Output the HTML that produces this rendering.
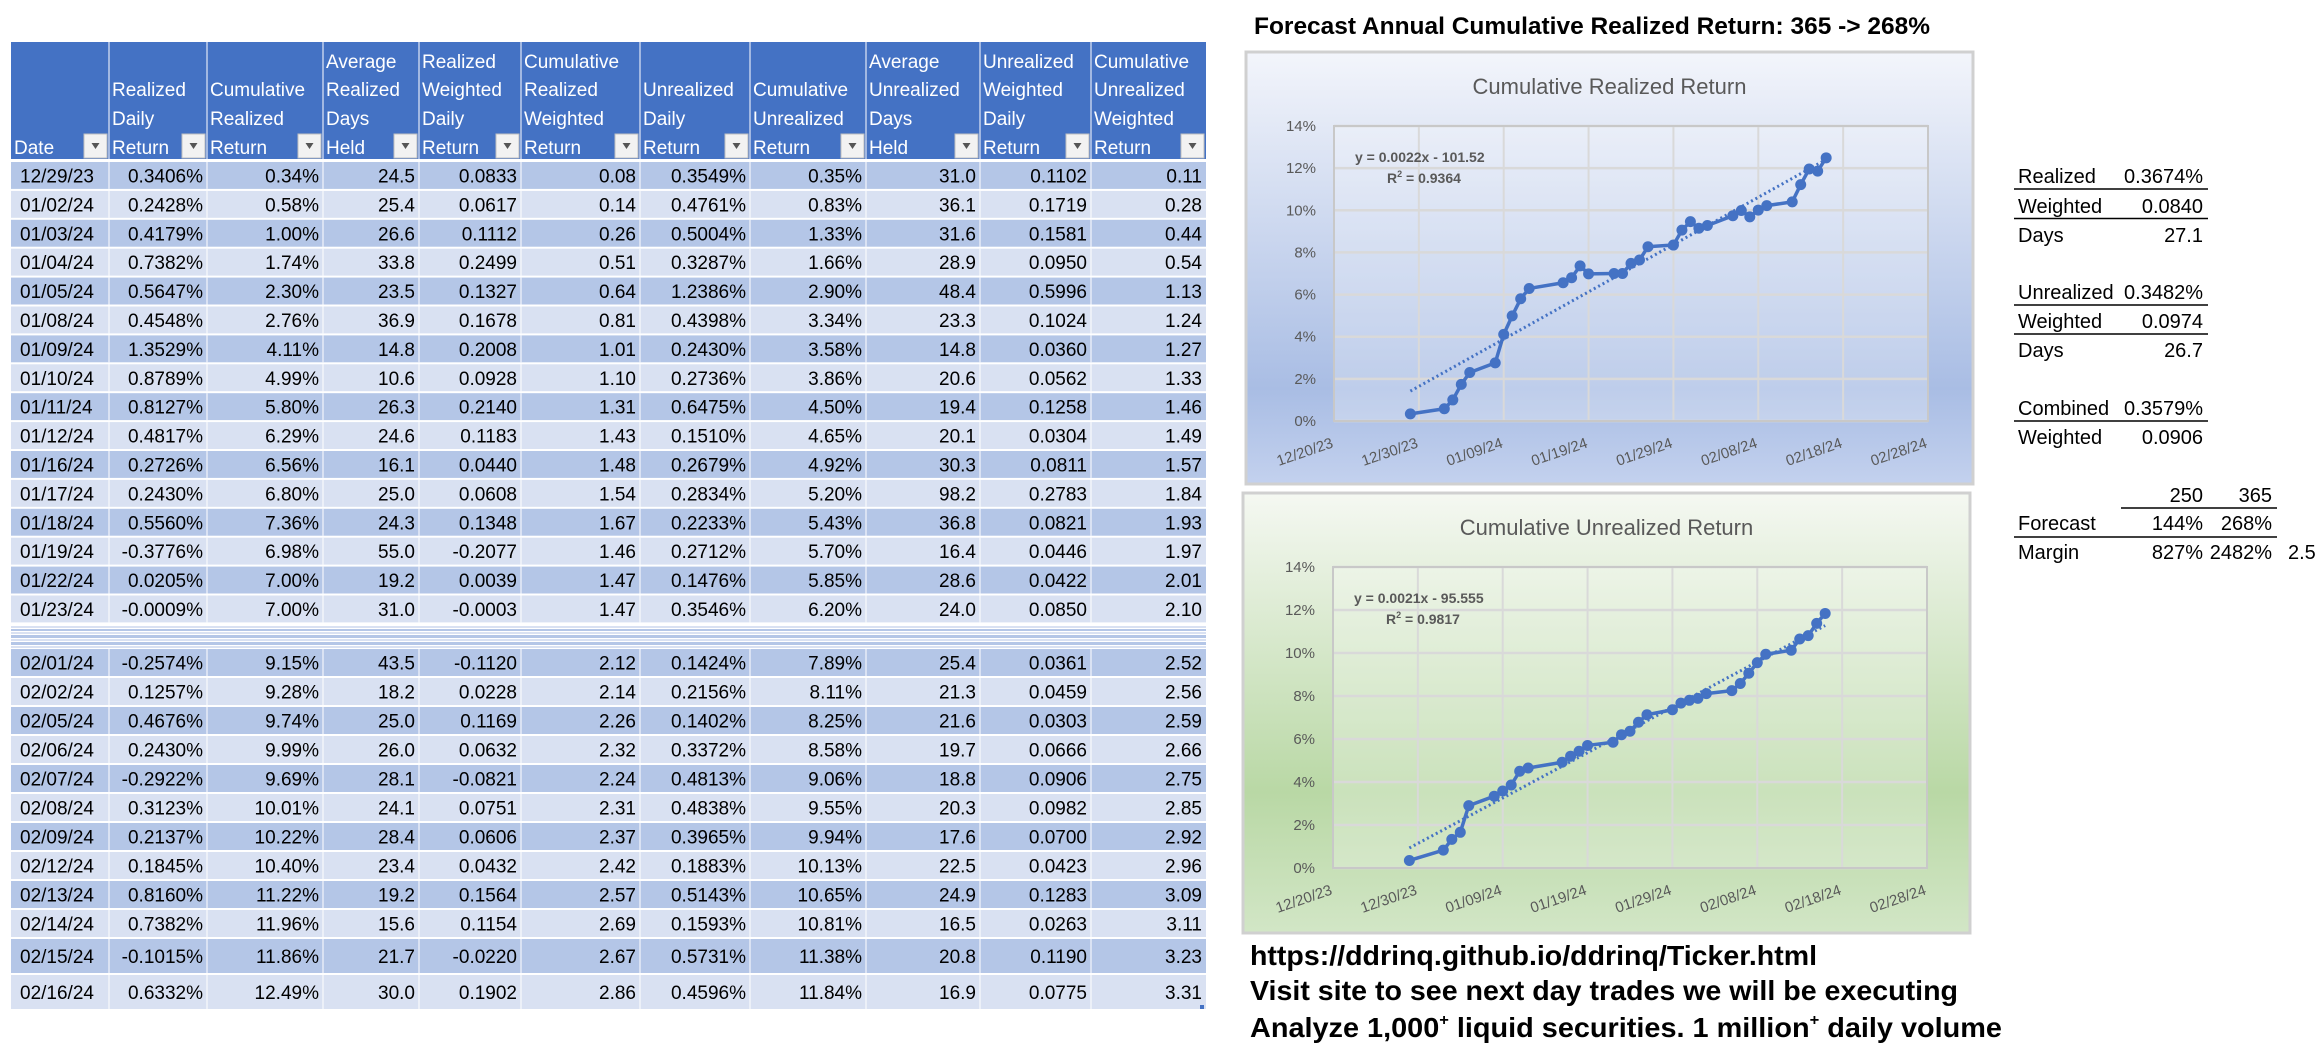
<!DOCTYPE html>
<html><head><meta charset="utf-8"><style>
html,body{margin:0;padding:0;background:#fff;}
svg{display:block;font-family:"Liberation Sans",sans-serif;}
</style></head><body>
<svg id="root" xmlns="http://www.w3.org/2000/svg" width="2320" height="1051" viewBox="0 0 2320 1051">
<defs>
<linearGradient id="gBlue" x1="0" y1="0" x2="0" y2="1">
<stop offset="0" stop-color="#F3F5FB"/><stop offset="0.78" stop-color="#A9BDE4"/><stop offset="1" stop-color="#C3D1EE"/></linearGradient>
<linearGradient id="gGreen" x1="0" y1="0" x2="0" y2="1">
<stop offset="0" stop-color="#F5F8F2"/><stop offset="0.68" stop-color="#B9D8A5"/><stop offset="1" stop-color="#D2E6C6"/></linearGradient>
</defs>
<g id="table"></g>
<text x="1254" y="34" font-size="24" font-weight="bold" textLength="676" lengthAdjust="spacingAndGlyphs">Forecast Annual Cumulative Realized Return: 365 -&gt; 268%</text>
<g id="chart1"></g>
<g id="chart2"></g>
<g id="summary" font-size="20">
<text x="2018" y="183">Realized</text><text x="2203" y="183" text-anchor="end">0.3674%</text>
<line x1="2014" y1="189" x2="2208" y2="189" stroke="#000" stroke-width="1.5"/>
<text x="2018" y="213">Weighted</text><text x="2203" y="213" text-anchor="end">0.0840</text>
<line x1="2014" y1="218.5" x2="2208" y2="218.5" stroke="#000" stroke-width="1.5"/>
<text x="2018" y="242">Days</text><text x="2203" y="242" text-anchor="end">27.1</text>
<text x="2018" y="299">Unrealized</text><text x="2203" y="299" text-anchor="end">0.3482%</text>
<line x1="2014" y1="305" x2="2208" y2="305" stroke="#000" stroke-width="1.5"/>
<text x="2018" y="328">Weighted</text><text x="2203" y="328" text-anchor="end">0.0974</text>
<line x1="2014" y1="334" x2="2208" y2="334" stroke="#000" stroke-width="1.5"/>
<text x="2018" y="357">Days</text><text x="2203" y="357" text-anchor="end">26.7</text>
<text x="2018" y="415">Combined</text><text x="2203" y="415" text-anchor="end">0.3579%</text>
<line x1="2014" y1="421" x2="2208" y2="421" stroke="#000" stroke-width="1.5"/>
<text x="2018" y="444">Weighted</text><text x="2203" y="444" text-anchor="end">0.0906</text>
<text x="2203" y="502" text-anchor="end">250</text><text x="2272" y="502" text-anchor="end">365</text>
<line x1="2121" y1="508" x2="2277" y2="508" stroke="#000" stroke-width="1.5"/>
<text x="2018" y="530">Forecast</text><text x="2203" y="530" text-anchor="end">144%</text><text x="2272" y="530" text-anchor="end">268%</text>
<line x1="2014" y1="537" x2="2277" y2="537" stroke="#000" stroke-width="1.5"/>
<text x="2018" y="559">Margin</text><text x="2203" y="559" text-anchor="end">827%</text><text x="2272" y="559" text-anchor="end">2482%</text><text x="2288" y="559">2.5</text>
</g>
<g font-weight="bold" font-size="28">
<text x="1250" y="965" textLength="567" lengthAdjust="spacingAndGlyphs">https://ddrinq.github.io/ddrinq/Ticker.html</text>
<text x="1250" y="1000" textLength="708" lengthAdjust="spacingAndGlyphs">Visit site to see next day trades we will be executing</text>
<text x="1250" y="1037" textLength="752" lengthAdjust="spacingAndGlyphs">Analyze 1,000<tspan font-size="16" dy="-12">+</tspan><tspan dy="12"> liquid securities.  1 million</tspan><tspan font-size="16" dy="-12">+</tspan><tspan dy="12"> daily volume</tspan></text>
</g>
</svg>
<script>
const NS="http://www.w3.org/2000/svg";
// ---- chart data ----
const chartDates=["12/29/23","01/02/24","01/03/24","01/04/24","01/05/24","01/08/24","01/09/24","01/10/24","01/11/24","01/12/24","01/16/24","01/17/24","01/18/24","01/19/24","01/22/24","01/23/24","01/24/24","01/25/24","01/26/24","01/29/24","01/30/24","01/31/24","02/01/24","02/02/24","02/05/24","02/06/24","02/07/24","02/08/24","02/09/24","02/12/24","02/13/24","02/14/24","02/15/24","02/16/24"];
const realizedCum=[0.34,0.58,1.00,1.74,2.30,2.76,4.11,4.99,5.80,6.29,6.56,6.80,7.36,6.98,7.00,7.00,7.48,7.64,8.27,8.35,9.06,9.46,9.15,9.28,9.74,9.99,9.69,10.01,10.22,10.40,11.22,11.96,11.86,12.49];
const unrealizedCum=[0.35,0.83,1.33,1.66,2.90,3.34,3.58,3.86,4.50,4.65,4.92,5.20,5.43,5.70,5.85,6.20,6.36,6.78,7.13,7.36,7.67,7.80,7.89,8.11,8.25,8.58,9.06,9.55,9.94,10.13,10.65,10.81,11.38,11.84];
const xTickLabels=["12/20/23","12/30/23","01/09/24","01/19/24","01/29/24","02/08/24","02/18/24","02/28/24"];
const yTickValues=[0,2,4,6,8,10,12,14];
const eq1=["y = 0.0022x - 101.52","0.9364"];
const eq2=["y = 0.0021x - 95.555","0.9817"];
// ---- table data ----
const headers=[["Date"],["Realized","Daily","Return"],["Cumulative","Realized","Return"],["Average","Realized","Days","Held"],["Realized","Weighted","Daily","Return"],["Cumulative","Realized","Weighted","Return"],["Unrealized","Daily","Return"],["Cumulative","Unrealized","Return"],["Average","Unrealized","Days","Held"],["Unrealized","Weighted","Daily","Return"],["Cumulative","Unrealized","Weighted","Return"]];
const rows1=[
["12/29/23","0.3406%","0.34%","24.5","0.0833","0.08","0.3549%","0.35%","31.0","0.1102","0.11"],
["01/02/24","0.2428%","0.58%","25.4","0.0617","0.14","0.4761%","0.83%","36.1","0.1719","0.28"],
["01/03/24","0.4179%","1.00%","26.6","0.1112","0.26","0.5004%","1.33%","31.6","0.1581","0.44"],
["01/04/24","0.7382%","1.74%","33.8","0.2499","0.51","0.3287%","1.66%","28.9","0.0950","0.54"],
["01/05/24","0.5647%","2.30%","23.5","0.1327","0.64","1.2386%","2.90%","48.4","0.5996","1.13"],
["01/08/24","0.4548%","2.76%","36.9","0.1678","0.81","0.4398%","3.34%","23.3","0.1024","1.24"],
["01/09/24","1.3529%","4.11%","14.8","0.2008","1.01","0.2430%","3.58%","14.8","0.0360","1.27"],
["01/10/24","0.8789%","4.99%","10.6","0.0928","1.10","0.2736%","3.86%","20.6","0.0562","1.33"],
["01/11/24","0.8127%","5.80%","26.3","0.2140","1.31","0.6475%","4.50%","19.4","0.1258","1.46"],
["01/12/24","0.4817%","6.29%","24.6","0.1183","1.43","0.1510%","4.65%","20.1","0.0304","1.49"],
["01/16/24","0.2726%","6.56%","16.1","0.0440","1.48","0.2679%","4.92%","30.3","0.0811","1.57"],
["01/17/24","0.2430%","6.80%","25.0","0.0608","1.54","0.2834%","5.20%","98.2","0.2783","1.84"],
["01/18/24","0.5560%","7.36%","24.3","0.1348","1.67","0.2233%","5.43%","36.8","0.0821","1.93"],
["01/19/24","-0.3776%","6.98%","55.0","-0.2077","1.46","0.2712%","5.70%","16.4","0.0446","1.97"],
["01/22/24","0.0205%","7.00%","19.2","0.0039","1.47","0.1476%","5.85%","28.6","0.0422","2.01"],
["01/23/24","-0.0009%","7.00%","31.0","-0.0003","1.47","0.3546%","6.20%","24.0","0.0850","2.10"]];
const rows2=[
["02/01/24","-0.2574%","9.15%","43.5","-0.1120","2.12","0.1424%","7.89%","25.4","0.0361","2.52"],
["02/02/24","0.1257%","9.28%","18.2","0.0228","2.14","0.2156%","8.11%","21.3","0.0459","2.56"],
["02/05/24","0.4676%","9.74%","25.0","0.1169","2.26","0.1402%","8.25%","21.6","0.0303","2.59"],
["02/06/24","0.2430%","9.99%","26.0","0.0632","2.32","0.3372%","8.58%","19.7","0.0666","2.66"],
["02/07/24","-0.2922%","9.69%","28.1","-0.0821","2.24","0.4813%","9.06%","18.8","0.0906","2.75"],
["02/08/24","0.3123%","10.01%","24.1","0.0751","2.31","0.4838%","9.55%","20.3","0.0982","2.85"],
["02/09/24","0.2137%","10.22%","28.4","0.0606","2.37","0.3965%","9.94%","17.6","0.0700","2.92"],
["02/12/24","0.1845%","10.40%","23.4","0.0432","2.42","0.1883%","10.13%","22.5","0.0423","2.96"],
["02/13/24","0.8160%","11.22%","19.2","0.1564","2.57","0.5143%","10.65%","24.9","0.1283","3.09"],
["02/14/24","0.7382%","11.96%","15.6","0.1154","2.69","0.1593%","10.81%","16.5","0.0263","3.11"],
["02/15/24","-0.1015%","11.86%","21.7","-0.0220","2.67","0.5731%","11.38%","20.8","0.1190","3.23"],
["02/16/24","0.6332%","12.49%","30.0","0.1902","2.86","0.4596%","11.84%","16.9","0.0775","3.31"]];

function mk(tag,attrs,parent,txt){const e=document.createElementNS(NS,tag);for(const k in attrs)e.setAttribute(k,attrs[k]);if(txt!==undefined)e.textContent=txt;parent.appendChild(e);return e;}

// ---- table ----
const T=document.getElementById('table');
const colX=[11,109,207,323,419,521,640,750,866,980,1091,1206];
const DARK="#B4C6E7",LIGHT="#D9E1F2",HEAD="#4472C4";
const hd=mk('rect',{x:11,y:42,width:1195,height:117,fill:HEAD},T);


const lineY=[61,89,118,147];
headers.forEach((h,c)=>{
  const off=4-h.length;
  h.forEach((w,i)=>{
    const t=mk('text',{x:colX[c]+3,y:lineY[off+i]+7,fill:"#fff","font-size":19},T,w);
    
    
  });
  const bx=colX[c+1]-25;
  const b=mk('rect',{x:bx,y:134,width:23,height:24,fill:"#F2F2F2",stroke:"#C0C0C0","stroke-width":1},T);
  
  
  mk('path',{d:`M${bx+7.5} ${143} L${bx+15.5} ${143} L${bx+11.5} ${149} Z`,fill:"#555"},T);
  if(c>0) mk('line',{x1:colX[c],y1:42,x2:colX[c],y2:159,stroke:"#fff","stroke-width":1},T);
});
function drawRow(r,y,h,fill){
  const bg=mk('rect',{x:11,y:y,width:1195,height:h-2,fill:fill},T);
  
  
  r.forEach((v,c)=>{
    const ty=y+h/2+6;
    const t=c===0?mk('text',{x:colX[0]+9,y:ty,"font-size":19,fill:"#000"},T,v):mk('text',{x:colX[c+1]-4,y:ty,"font-size":19,fill:"#000","text-anchor":"end"},T,v);
    
    
  });
  for(let c=1;c<11;c++) mk('line',{x1:colX[c],y1:y,x2:colX[c],y2:y+h-2,stroke:"#fff","stroke-width":1},T);
}
let y=162;
rows1.forEach((r,i)=>{drawRow(r,y,28.9,i%2?LIGHT:DARK);y+=28.9;});
const stripes=[[626,2,LIGHT],[629,2,DARK],[632,2,LIGHT],[635,3,DARK],[639,2,LIGHT],[642,3,DARK],[646,2,LIGHT]];
stripes.forEach(s=>{mk('rect',{x:11,y:s[0],width:1195,height:s[1],fill:s[2]},T);});
y=649;
rows2.forEach((r,i)=>{const h=i>=10?36:29;drawRow(r,y,h,i%2?LIGHT:DARK);y+=h;});
mk('rect',{x:1200,y:1005,width:4,height:4,fill:"#4472C4"},T);

// ---- charts ----
const base=new Date(2023,11,20);
function dayOf(s){const p=s.split('/');const d=new Date(2000+ +p[2],+p[0]-1,+p[1]);return Math.round((d-base)/86400000);}
function drawChart(gid,box,plot,title,series,eq,grad){
  const G=document.getElementById(gid);
  const bg=mk('rect',{x:box[0],y:box[1],width:box[2],height:box[3],fill:`url(#${grad})`,stroke:"#D0D0D0","stroke-width":3},G);
  
  
  const tt=mk('text',{x:box[0]+box[2]/2,y:plot.titleY,"text-anchor":"middle","font-size":22,fill:"#595959"},G,title);
  
  
  const [px,py,pw,ph]=[plot.x,plot.y,plot.w,plot.h];
  const xs=d=>px+d/70*pw;
  const ys=v=>py+ph-v/14*ph;
  mk('rect',{x:px,y:py,width:pw,height:ph,fill:"rgba(255,255,255,0.25)"},G);
  yTickValues.forEach(v=>{
    mk('line',{x1:px,y1:ys(v),x2:px+pw,y2:ys(v),stroke:"#D9D9D9","stroke-width":2.5},G);
    const t=mk('text',{x:px-18,y:ys(v)+5,"text-anchor":"end","font-size":15,fill:"#595959"},G,v+"%");
    
    
  });
  xTickLabels.forEach((l,i)=>{
    const x=xs(i*10);
    mk('line',{x1:x,y1:py,x2:x,y2:py+ph,stroke:"#D9D9D9","stroke-width":2},G);
    const t=mk('text',{x:x,y:py+ph+26,"text-anchor":"end","font-size":15,fill:"#595959",transform:`rotate(-19 ${x} ${py+ph+26})`},G,l);
    
    
  });
  mk('rect',{x:px,y:py,width:pw,height:ph,fill:"none",stroke:"#C8C8C8","stroke-width":2},G);
  const ds=chartDates.map(dayOf);
  const n=ds.length;let sx=0,sy=0,sxx=0,sxy=0;
  for(let i=0;i<n;i++){sx+=ds[i];sy+=series[i];sxx+=ds[i]*ds[i];sxy+=ds[i]*series[i];}
  const m=(n*sxy-sx*sy)/(n*sxx-sx*sx),b=(sy-m*sx)/n;
  const tl=mk('line',{x1:xs(ds[0]),y1:ys(m*ds[0]+b),x2:xs(ds[n-1]),y2:ys(m*ds[n-1]+b),stroke:"#4472C4","stroke-width":3,"stroke-dasharray":"2 3"},G);
  
  
  const pts=ds.map((d,i)=>xs(d)+","+ys(series[i])).join(" ");
  const pl=mk('polyline',{points:pts,fill:"none",stroke:"#4472C4","stroke-width":3.5,"stroke-linejoin":"round"},G);
  
  
  ds.forEach((d,i)=>{
    const c=mk('circle',{cx:xs(d),cy:ys(series[i]),r:5.5,fill:"#4472C4"},G);
    
    
  });
  const e1=mk('text',{x:px+21,y:py+36,"font-size":14,"font-weight":"bold",fill:"#595959"},G,eq[0]);
  
  
  const e2=mk('text',{x:px+53,y:py+57,"font-size":14,"font-weight":"bold",fill:"#595959"},G);
  
  
  e2.innerHTML='R<tspan font-size="9" dy="-6">2</tspan><tspan dy="6"> = '+eq[1]+'</tspan>';
}
drawChart('chart1',[1246,52,727,432],{x:1334,y:126,w:594,h:295,titleY:94},"Cumulative Realized Return",realizedCum,eq1,"gBlue");
drawChart('chart2',[1243,493,727,440],{x:1333,y:567,w:594,h:301,titleY:535},"Cumulative Unrealized Return",unrealizedCum,eq2,"gGreen");
</script>
</body></html>
